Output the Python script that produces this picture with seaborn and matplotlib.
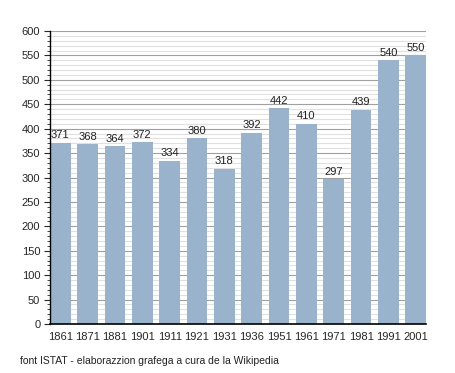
import numpy as np
import pandas as pd
import matplotlib.pyplot as plt
from matplotlib.ticker import MultipleLocator
import seaborn as sns

# Data
years = ['1861', '1871', '1881', '1901', '1911', '1921', '1931',
         '1936', '1951', '1961', '1971', '1981', '1991', '2001']
population = [371, 368, 364, 372, 334, 380, 318, 392, 442, 410, 297, 439, 540, 550]
source_note = "font ISTAT - elaborazzion grafega a cura de la Wikipedia"

df = pd.DataFrame({'anno': years, 'abitanti': population})

sns.set_style("white")
plt.rcParams['font.family'] = ['Liberation Sans', 'DejaVu Sans']

fig = plt.figure(figsize=(4.55, 3.73), dpi=100)
ax = fig.add_axes([50 / 455, 49 / 373, 376 / 455, 293 / 373])

sns.barplot(data=df, x='anno', y='abitanti', color='#9ab3cc', saturation=1,
            width=0.75, linewidth=0, ax=ax, zorder=3)

# Value labels
for i, v in enumerate(population):
    ax.text(i, v + 5, str(v), ha='center', va='bottom', fontsize=8, color='#222222', zorder=4)

ax.set_ylim(0, 600)
ax.set_xlim(-0.375, len(years) - 0.625)
ax.yaxis.set_major_locator(MultipleLocator(50))
ax.yaxis.set_minor_locator(MultipleLocator(10))
ax.grid(which='major', axis='y', color='#a0a0a0', linewidth=0.8, zorder=0)
ax.grid(which='minor', axis='y', color='#e0e0e0', linewidth=0.8, zorder=0)
ax.set_axisbelow(True)

for s in ['top', 'right']:
    ax.spines[s].set_visible(False)
for s in ['left', 'bottom']:
    ax.spines[s].set_color('black')
    ax.spines[s].set_zorder(5)
ax.spines['left'].set_linewidth(1)
ax.spines['bottom'].set_linewidth(1.2)

ax.tick_params(axis='y', which='major', left=True, length=4, width=0.8, labelsize=8, pad=3)
ax.tick_params(axis='y', which='minor', left=True, length=2, width=0.6)
ax.tick_params(axis='x', which='both', bottom=False, labelsize=8, pad=2)
ax.set_xlabel('')
ax.set_ylabel('')

fig.text(20 / 455, 1 - 361 / 373, source_note, fontsize=7.5, va='center', ha='left', color='#222222')

plt.savefig("out.png", dpi=100)
plt.close()
